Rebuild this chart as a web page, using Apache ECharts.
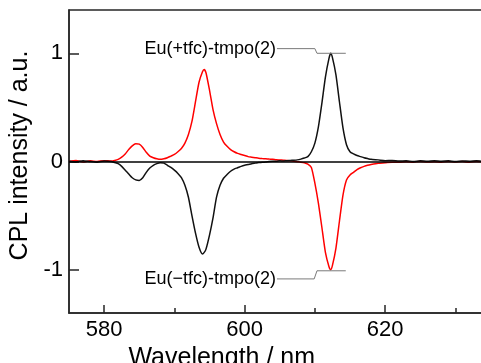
<!DOCTYPE html>
<html>
<head>
<meta charset="utf-8">
<script src="https://cdn.jsdelivr.net/npm/echarts@6/dist/echarts.min.js"></script>
<style>
html,body{margin:0;padding:0;background:#fff;}
#chart{width:481px;height:363px;}
</style>
</head>
<body>
<div id="chart"></div>
<script>
// Wavelength (nm)
var wavelength = [575,576,577,578,579,580,581,
581.5,582,582.5,583,583.5,584,584.5,585,585.5,586,586.5,587,587.5,588,588.5,589,589.5,590,590.5,591,591.5,592,592.5,593,593.5,594,
594.25,
594.5,595,595.5,596,596.5,597,597.5,598,598.5,599,599.5,600,600.5,601,601.5,602,602.5,603,603.5,604,604.5,605,605.5,606,606.5,607,607.5,608,608.5,609,609.5,610,610.5,611,611.5,612,
612.25,
612.5,613,613.5,614,614.5,615,615.5,616,616.5,617,617.5,618,
619,620,621,622,623,624,625,626,627,628,629,630,631,632,633,634,635];

// Eu(+tfc)-tmpo(2)  (black)
var plusTfc = [0.005,-0.005,0.008,0,-0.006,0.004,0,
-0.01,-0.02,-0.045,-0.08,-0.115,-0.15,-0.17,-0.175,-0.15,-0.1,-0.06,-0.035,-0.02,-0.012,-0.015,-0.035,-0.055,-0.08,-0.11,-0.15,-0.22,-0.33,-0.5,-0.66,-0.79,-0.855,
-0.84,
-0.81,-0.68,-0.52,-0.33,-0.22,-0.155,-0.12,-0.09,-0.07,-0.058,-0.045,-0.035,-0.028,-0.02,-0.015,-0.01,-0.008,-0.005,0,0.003,0.002,0.006,0.004,0.008,0.01,0.012,0.015,0.022,0.032,0.045,0.09,0.17,0.32,0.54,0.78,0.95,
1.0,
0.96,0.8,0.55,0.31,0.155,0.09,0.07,0.055,0.045,0.035,0.027,0.02,
0.015,0.008,0.01,0.004,0.007,0,0.006,0.002,0.008,0.003,0.006,0,0.005,0.002,0.007,0.001,0.004];

// Eu(-tfc)-tmpo(2)  (red)
var minusTfc = [0,0.01,-0.004,0.006,0,0.008,0.004,
0.01,0.02,0.04,0.07,0.11,0.145,0.165,0.16,0.13,0.085,0.05,0.035,0.025,0.02,0.025,0.035,0.05,0.065,0.09,0.12,0.17,0.25,0.37,0.55,0.73,0.83,
0.85,
0.82,0.66,0.48,0.35,0.25,0.18,0.14,0.11,0.09,0.075,0.065,0.055,0.045,0.04,0.035,0.03,0.027,0.025,0.022,0.02,0.016,0.014,0.012,0.01,0.006,0.002,-0.002,-0.006,-0.012,-0.025,-0.055,-0.2,-0.385,-0.61,-0.84,-0.97,
-1.0,
-0.96,-0.8,-0.55,-0.31,-0.17,-0.125,-0.1,-0.075,-0.058,-0.045,-0.035,-0.028,
-0.017,-0.012,-0.006,-0.008,-0.002,-0.006,0,-0.005,-0.002,-0.007,0,-0.004,-0.001,-0.006,0,-0.003,-0.002];

var xMajorTicks = [580, 600, 620];
var xMinorTicks = [590, 610, 630];
var yTicks = [-1, 0, 1];

// annotation leader lines (data coordinates)
var leaderPlus = [[604.6,1.043],[610.0,1.043],[610.3,1.0],[614.4,1.0]];
var leaderMinus = [[604.6,-1.085],[609.9,-1.085],[610.3,-1.01],[614.4,-1.01]];
var labelPlus = 'Eu(+tfc)-tmpo(2)';
var labelMinus = 'Eu(\u2212tfc)-tmpo(2)';

var FONT = '"Liberation Sans", Arial, sans-serif';
var AXC = '#262626';

var chart = echarts.init(document.getElementById('chart'), null, {renderer:'canvas'});

function pairs(xs, ys){ return xs.map(function(x,i){ return [x, ys[i]]; }); }

var option = {
  animation:false,
  backgroundColor:'#fff',
  grid:{left:69, top:10, right:-9.5, bottom:50, containLabel:false, outerBoundsMode:'none',
        show:true, borderColor:AXC, borderWidth:1.5, backgroundColor:'transparent'},
  xAxis:[{
    type:'value', min:575, max:635,
    name:'Wavelength / nm', nameLocation:'middle', nameGap:24,
    nameTextStyle:{fontFamily:FONT, fontSize:25, color:'#000', padding:[0,116,0,0]},
    axisLine:{show:true, onZero:false, lineStyle:{color:AXC, width:1.5}},
    axisTick:{show:true, inside:true, length:8, customValues:xMajorTicks, lineStyle:{color:AXC, width:1.5}},
    axisLabel:{show:true, customValues:xMajorTicks, margin:6, fontFamily:FONT, fontSize:22, color:'#000'},
    splitLine:{show:false}
  },{
    type:'value', min:575, max:635, position:'bottom', offset:0,
    axisLine:{show:false, onZero:false},
    axisTick:{show:true, inside:true, length:5, customValues:xMinorTicks, lineStyle:{color:AXC, width:1.5}},
    axisLabel:{show:false},
    splitLine:{show:false}
  }],
  yAxis:{
    type:'value', min:-1.4, max:1.4,
    name:'CPL intensity / a.u.', nameLocation:'middle', nameRotate:90, nameGap:31,
    nameTextStyle:{fontFamily:FONT, fontSize:25, color:'#000', padding:[0,0,0,12]},
    axisLine:{show:true, onZero:false, lineStyle:{color:AXC, width:1.5}},
    axisTick:{show:true, inside:true, length:10, customValues:yTicks, lineStyle:{color:AXC, width:1.5}},
    axisLabel:{show:true, customValues:yTicks, margin:6, fontFamily:FONT, fontSize:22, color:'#000'},
    splitLine:{show:false}
  },
  series:[{
    name:labelMinus, type:'line', data:pairs(wavelength, minusTfc),
    showSymbol:false, smooth:0.2, lineStyle:{color:'#ff0000', width:1.5}, z:3
  },{
    name:labelPlus, type:'line', data:pairs(wavelength, plusTfc),
    showSymbol:false, smooth:0.2, lineStyle:{color:'#111111', width:1.5}, z:4,
    markLine:{silent:true, symbol:['none','none'], label:{show:false},
      lineStyle:{color:'#000', width:1.5, type:'solid'}, data:[{yAxis:0}], animation:false}
  },{
    name:'leader+', type:'line', data:leaderPlus, showSymbol:false, silent:true,
    lineStyle:{color:'#7a7a7a', width:1}, z:5
  },{
    name:'leader-', type:'line', data:leaderMinus, showSymbol:false, silent:true,
    lineStyle:{color:'#7a7a7a', width:1}, z:5
  }]
};
chart.setOption(option);

var pPlus = chart.convertToPixel({gridIndex:0}, leaderPlus[0]);
var pMinus = chart.convertToPixel({gridIndex:0}, leaderMinus[0]);
chart.setOption({
  graphic:[{
    type:'text', x:pPlus[0]-1, y:pPlus[1],
    style:{text:labelPlus, align:'right', verticalAlign:'middle', font:'18px ' + FONT, fill:'#000'}
  },{
    type:'text', x:pMinus[0]-1, y:pMinus[1],
    style:{text:labelMinus, align:'right', verticalAlign:'middle', font:'18px ' + FONT, fill:'#000'}
  }]
});
</script>
</body>
</html>
